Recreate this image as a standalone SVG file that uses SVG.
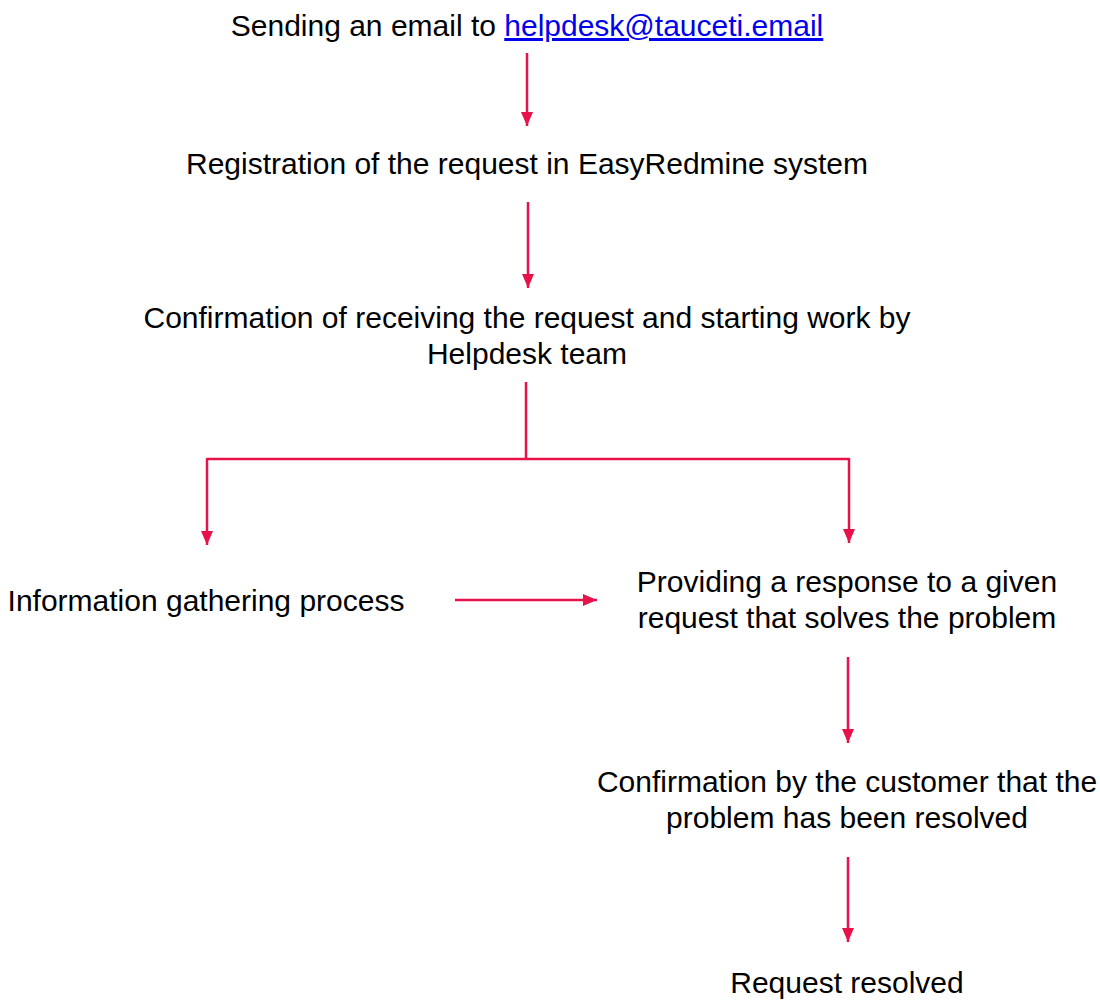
<svg xmlns="http://www.w3.org/2000/svg" width="1100" height="1001" viewBox="0 0 1100 1001">
  <style>
    .t { font-family: "Liberation Sans", Arial, sans-serif; font-size: 30px; fill: #000; text-anchor: middle; }
    .link { fill: #0000ee; text-decoration: underline; }
    .c { fill: none; stroke: #e8124a; stroke-width: 2.5; }
  </style>
  <defs>
    <!-- triangular head, aligned with the path direction -->
    <marker id="ah" viewBox="0 0 14 12" refX="14" refY="6" markerWidth="14" markerHeight="12" markerUnits="userSpaceOnUse" orient="auto">
      <path d="M0,0 L14,6 L0,12 Z" fill="#e8124a"/>
    </marker>
  </defs>
  <rect width="1100" height="1001" fill="#fff"/>

  <g id="n-email">
    <text class="t" x="527" y="36">Sending an email to <tspan class="link">helpdesk@tauceti.email</tspan></text>
  </g>
  <g id="n-register">
    <text class="t" x="527" y="174">Registration of the request in EasyRedmine system</text>
  </g>
  <g id="n-confirm">
    <text class="t" x="527" y="328">Confirmation of receiving the request and starting work by</text>
    <text class="t" x="527" y="364">Helpdesk team</text>
  </g>
  <g id="n-info">
    <text class="t" x="206" y="611">Information gathering process</text>
  </g>
  <g id="n-response">
    <text class="t" x="847" y="592">Providing a response to a given</text>
    <text class="t" x="847" y="628">request that solves the problem</text>
  </g>
  <g id="n-customer">
    <text class="t" x="847" y="792">Confirmation by the customer that the</text>
    <text class="t" x="847" y="828">problem has been resolved</text>
  </g>
  <g id="n-resolved">
    <text class="t" x="847" y="993">Request resolved</text>
  </g>

  <g id="connectors">
    <path class="c" d="M527,53 V126" marker-end="url(#ah)"/>
    <path class="c" d="M528,202 V288" marker-end="url(#ah)"/>
    <path class="c" d="M526,382 V459"/>
    <path class="c" d="M207,459 H849"/>
    <path class="c" d="M207,458 V545" marker-end="url(#ah)"/>
    <path class="c" d="M849,458 V543" marker-end="url(#ah)"/>
    <path class="c" d="M455,600 H597" marker-end="url(#ah)"/>
    <path class="c" d="M848,657 V743" marker-end="url(#ah)"/>
    <path class="c" d="M848,857 V942" marker-end="url(#ah)"/>
  </g>
</svg>
